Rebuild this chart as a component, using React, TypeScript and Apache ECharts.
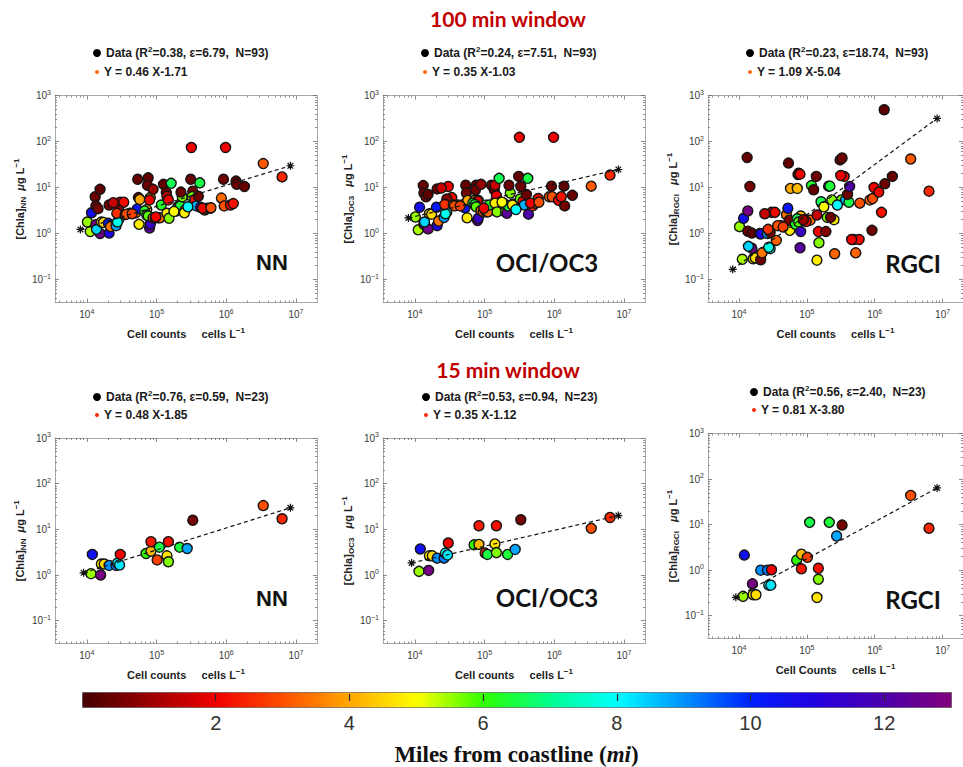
import React, { useEffect, useRef } from 'react';
import * as echarts from 'echarts';

// ---------------- DATA : 100 min window (N = 93) ----------------
const cells100 = [10200, 11200, 11700, 13500, 15500, 13800, 13200, 13500, 14500, 15500, 16200, 17400, 20900, 20400, 20900, 21900, 26300, 28800, 27500, 30200, 33900, 28800, 26900, 35500, 41700, 50100, 52500, 53700, 55000, 56200, 57500, 75900, 74100, 72400, 81300, 79400, 67600, 72400, 75900, 79400, 81300, 89100, 95500, 105000, 112000, 117000, 126000, 138000, 141000, 148000, 141000, 151000, 162000, 191000, 200000, 209000, 219000, 234000, 257000, 251000, 309000, 331000, 324000, 355000, 372000, 417000, 398000, 427000, 490000, 525000, 316000, 977000, 851000, 933000, 1150000, 912000, 1380000, 1410000, 1820000, 589000, 1260000, 3390000, 6310000, 37200, 44700, 97700, 178000, 282000, 224000, 89100, 457000, 603000, 24000];
const miles100 = [5.5, 5.4, 10.6, 12.8, 12.7, 8.4, 0.4, 0.5, 0.6, 0.3, 4.8, 4.6, 0.5, 10.2, 10.8, 3.4, 8.8, 8.0, 7.8, 2.0, 2.1, 0.7, 2.6, 3.2, 3.3, 3.4, 10.3, 0.4, 0.6, 4.8, 4.0, 0.4, 0.5, 4.2, 4.3, 2.0, 6.3, 6.5, 5.8, 12.2, 11.5, 3.3, 3.2, 3.1, 3.3, 6.3, 0.4, 0.5, 1.5, 2.0, 4.8, 5.6, 6.6, 0.7, 5.6, 12.3, 6.4, 5.6, 3.2, 4.8, 0.4, 0.5, 5.7, 2.1, 8.7, 6.5, 0.5, 12.0, 2.6, 3.2, 2.0, 2.0, 3.3, 3.0, 2.0, 0.5, 0.3, 0.5, 0.4, 2.1, 2.2, 3.1, 2.5, 3.0, 2.8, 2.0, 5.0, 8.0, 0.5, 1.0, 2.0, 3.0, 1.5];
const chlNN100 = [1.78, 1.10, 2.82, 1.55, 1.00, 1.23, 6.31, 3.98, 3.47, 9.12, 1.78, 1.74, 4.17, 1.66, 1.02, 1.41, 1.48, 2.04, 1.78, 4.79, 4.79, 3.24, 2.75, 2.57, 2.75, 2.82, 3.39, 15.1, 6.03, 1.58, 5.50, 16.2, 11.2, 3.31, 6.03, 5.37, 3.09, 2.51, 2.40, 1.32, 1.58, 2.19, 2.19, 2.19, 2.19, 4.17, 11.7, 7.76, 6.46, 5.37, 2.75, 2.14, 12.3, 3.09, 3.72, 3.98, 3.98, 6.31, 3.24, 2.82, 15.1, 8.32, 6.31, 5.50, 3.98, 12.6, 6.46, 3.72, 3.24, 3.55, 74.1, 74.1, 5.89, 3.98, 4.17, 15.1, 13.8, 11.7, 10.5, 3.55, 4.47, 33.1, 17.0, 2.63, 2.69, 2.29, 3.02, 3.80, 7.94, 9.12, 3.55, 3.63, 4.68];
const chlOC3100 = [2.29, 1.20, 3.72, 1.58, 1.26, 1.78, 11.0, 7.59, 6.31, 7.08, 2.69, 2.63, 9.33, 3.72, 1.48, 1.86, 2.24, 2.95, 2.69, 10.5, 6.03, 5.62, 4.27, 4.17, 4.17, 4.27, 3.63, 11.2, 7.59, 2.19, 5.25, 11.2, 8.91, 5.25, 5.25, 5.01, 4.57, 4.27, 3.80, 1.91, 2.14, 3.16, 2.95, 2.95, 2.95, 4.17, 11.2, 8.91, 11.2, 6.61, 4.57, 2.95, 15.8, 4.47, 2.95, 2.75, 3.98, 7.59, 4.37, 4.17, 17.4, 10.5, 5.62, 5.01, 4.17, 15.8, 7.08, 2.63, 3.98, 4.57, 123, 123, 6.31, 6.31, 5.25, 10.7, 10.7, 3.98, 6.76, 5.75, 6.31, 10.7, 18.6, 3.98, 3.98, 3.55, 4.79, 3.31, 11.2, 11.7, 4.57, 4.79, 9.77];
const chlRGCI100 = [1.41, 0.275, 2.14, 3.09, 0.479, 0.525, 44.7, 1.12, 10.5, 1.02, 0.282, 0.295, 0.269, 1.00, 0.977, 0.380, 1.00, 0.468, 0.501, 2.88, 2.88, 1.05, 1.23, 0.708, 1.48, 2.57, 3.55, 33.9, 1.95, 1.17, 9.55, 20.4, 19.1, 9.55, 2.40, 19.5, 1.58, 2.09, 1.78, 0.490, 1.10, 1.95, 1.95, 1.95, 1.95, 11.0, 8.91, 17.4, 2.51, 1.10, 0.263, 0.631, 4.90, 1.10, 2.24, 10.7, 10.7, 5.37, 0.363, 2.00, 39.8, 43.7, 5.37, 17.4, 5.37, 4.79, 7.08, 10.5, 0.741, 0.380, 18.2, 10.0, 5.37, 5.75, 7.94, 1.17, 490, 12.0, 17.4, 0.741, 2.88, 41.7, 8.32, 1.48, 1.38, 1.82, 3.80, 4.17, 2.24, 2.00, 0.741, 4.57, 2.69];

// ---------------- DATA : 15 min window (N = 23) ----------------
const cells15 = [12000, 11500, 15800, 16200, 17800, 20900, 26300, 27500, 29500, 30200, 70800, 83200, 83200, 102000, 110000, 141000, 148000, 148000, 214000, 275000, 331000, 3390000, 6310000];
const miles15 = [10.5, 5.5, 12.8, 4.8, 4.6, 9.0, 9.2, 8.0, 8.2, 2.0, 6.0, 4.2, 2.3, 2.8, 6.5, 4.7, 5.6, 2.2, 6.4, 8.8, 0.6, 3.0, 2.5];
const chlNN15 = [2.82, 1.07, 1.00, 1.74, 1.74, 1.62, 1.62, 1.82, 1.66, 2.82, 2.95, 3.31, 5.37, 2.14, 4.07, 2.63, 1.95, 5.37, 4.07, 3.80, 15.8, 33.1, 17.0];
const chlOC315 = [3.72, 1.20, 1.26, 2.63, 2.63, 2.34, 2.34, 3.02, 2.75, 5.01, 4.57, 4.68, 12.0, 3.02, 2.82, 4.79, 3.09, 12.0, 2.82, 3.63, 16.2, 10.5, 18.2];
const chlRGCI15 = [2.14, 0.266, 0.501, 0.288, 0.288, 1.00, 1.00, 0.468, 0.468, 1.02, 1.66, 2.24, 1.07, 1.91, 11.2, 0.251, 0.631, 1.10, 11.2, 5.62, 9.77, 43.7, 8.32];

// ---------------- fits & stats ----------------
const fitSlope100 = [0.46, 0.35, 1.09];
const fitIntercept100 = [-1.71, -1.03, -5.04];
const fitSlope15 = [0.48, 0.35, 0.81];
const fitIntercept15 = [-1.85, -1.12, -3.80];
const fitCells100 = [8100, 8300000];
const fitCells15 = [9000, 8300000];
const r2_100 = ['0.38', '0.24', '0.23'];
const eps100 = ['6.79', '7.51', '18.74'];
const r2_15 = ['0.76', '0.53', '0.56'];
const eps15 = ['0.59', '0.94', '2.40'];
const n100 = 93;
const n15 = 23;

const panelLabels = ['NN', 'OCI/OC3', 'RGCI'];
const ySubscripts = ['NN', 'OC3', 'RGCI'];
const windowTitles = ['100 min window', '15 min window'];
const xMajorTicks = [4, 5, 6, 7];
const yMajorTicks = [-1, 0, 1, 2, 3];
const colorbarTicks = [2, 4, 6, 8, 10, 12];
const milesColors = ['#440000', '#990000', '#f20000', '#ff5000', '#ffa800', '#ffff00', '#30ff00', '#00ff90', '#00ffff', '#0090ff', '#0020ff', '#2400e0', '#4c00aa', '#82007a'];

// ---------------- layout/style ----------------
const X_MIN = Math.log10(3500);
const X_MAX = Math.log10(2e7);
const Y_MIN = -1.5;
const Y_MAX = 3;
const SANS = "'Liberation Sans', Arial, Helvetica, sans-serif";
const BOX = '#a9a9a9';
const TICK = '#6e6e6e';

function logMinor(lo: number, hi: number, from: number, to: number) {
  const out: number[] = [];
  for (let n = from; n <= to; n++) {
    for (let k = 2; k <= 9; k++) {
      const v = n + Math.log10(k);
      if (v > lo + 1e-9 && v < hi - 1e-9) out.push(v);
    }
  }
  return out;
}
const xMinor = logMinor(X_MIN, X_MAX, 3, 7);
const yMinor = logMinor(Y_MIN, Y_MAX, -2, 2);

const grids = [
  { left: 55, top: 95.5, width: 262, height: 207 },
  { left: 383, top: 95.5, width: 262, height: 207 },
  { left: 708, top: 95.5, width: 262, height: 207 },
  { left: 55, top: 438, width: 262, height: 205.5 },
  { left: 383, top: 438, width: 262, height: 205.5 },
  { left: 708, top: 433.5, width: 262, height: 205 },
];
const yNameGaps = [27, 25, 24, 24, 22, 24];
const legendDotX = [97, 425, 750, 97, 426, 754];
const legendDataY = [53, 53, 53, 397, 397, 392];
const legendFitY = [72, 72, 72, 415, 415, 410];
const labelPos = [[272, 262], [547, 262], [913, 263], [272, 598], [547, 597], [913, 599]];

const expFmt = (v: number) => {
  const e = Math.round(v);
  return `{b|10}{s|${e < 0 ? '\u2212' + Math.abs(e) : e}}`;
};
const expRich = {
  b: { fontSize: 10, color: '#3a3a3a', fontFamily: SANS, lineHeight: 14 },
  s: { fontSize: 7, color: '#3a3a3a', fontFamily: SANS, lineHeight: 8, verticalAlign: 'top' },
};

function xAxisDef(g: number, position: string, ticks: number[], len: number, showLine: boolean, withLabel: boolean, name?: string) {
  return {
    type: 'value', gridIndex: g, position, min: X_MIN, max: X_MAX,
    axisLine: { show: showLine, onZero: false, lineStyle: { color: BOX, width: 1 } },
    axisTick: { show: true, inside: true, length: len, customValues: ticks, lineStyle: { color: TICK, width: 0.8 } },
    axisLabel: withLabel ? { show: true, customValues: xMajorTicks, formatter: expFmt, rich: expRich, margin: 5 } : { show: false },
    splitLine: { show: false },
    name: name || '',
    nameLocation: 'middle',
    nameGap: 24,
    nameTextStyle: {
      fontFamily: SANS, fontWeight: 'bold', fontSize: 11, color: '#222', lineHeight: 14,
      rich: { sup: { fontFamily: SANS, fontWeight: 'bold', fontSize: 8, color: '#222', lineHeight: 8, verticalAlign: 'top' } },
    },
  };
}
function yAxisDef(g: number, position: string, ticks: number[], len: number, showLine: boolean, withLabel: boolean, name?: string, gap?: number) {
  return {
    type: 'value', gridIndex: g, position, min: Y_MIN, max: Y_MAX,
    axisLine: { show: showLine, onZero: false, lineStyle: { color: BOX, width: 1 } },
    axisTick: { show: true, inside: true, length: len, customValues: ticks, lineStyle: { color: TICK, width: 0.8 } },
    axisLabel: withLabel ? { show: true, customValues: yMajorTicks, formatter: expFmt, rich: expRich, margin: 4 } : { show: false },
    splitLine: { show: false },
    name: name || '',
    nameLocation: 'middle',
    nameGap: gap || 25,
    nameTextStyle: {
      fontFamily: SANS, fontWeight: 'bold', fontSize: 11, color: '#222', lineHeight: 15,
      rich: {
        sub: { fontFamily: SANS, fontWeight: 'bold', fontSize: 8, color: '#222', lineHeight: 9, verticalAlign: 'bottom' },
        sup: { fontFamily: SANS, fontWeight: 'bold', fontSize: 8, color: '#222', lineHeight: 8, verticalAlign: 'top' },
        mu: { fontFamily: SANS, fontWeight: 'bold', fontStyle: 'italic', fontSize: 11, color: '#222', lineHeight: 15 },
      },
    },
  };
}

function buildOption() {
  const xAxes: any[] = [];
  const yAxes: any[] = [];
  const series: any[] = [];
  const legends: any[] = [];
  const graphics: any[] = [];
  const legendLabels: Record<string, string> = {};
  const scatterIdx: number[] = [];

  const windows = [
    { cells: cells100, miles: miles100, chl: [chlNN100, chlOC3100, chlRGCI100], slope: fitSlope100, icpt: fitIntercept100, fitCells: fitCells100, r2: r2_100, eps: eps100, n: n100, fitColor: '#ff6a1a' },
    { cells: cells15, miles: miles15, chl: [chlNN15, chlOC315, chlRGCI15], slope: fitSlope15, icpt: fitIntercept15, fitCells: fitCells15, r2: r2_15, eps: eps15, n: n15, fitColor: '#ff2a14' },
  ];

  windows.forEach((w, wi) => {
    for (let k = 0; k < 3; k++) {
      const p = wi * 3 + k;
      const xName = (p === 5 ? 'Cell Counts' : 'Cell counts') + '     cells L{sup|\u22121}';
      const sep = k === 0 ? '  ' : '   ';
      const yName = `[Chla]{sub|${ySubscripts[k]}}${sep}{mu|\u03bc}g L{sup|\u22121}`;
      xAxes.push(xAxisDef(p, 'bottom', xMajorTicks, 4, true, true, xName));
      xAxes.push(xAxisDef(p, 'bottom', xMinor, 2, false, false));
      xAxes.push(xAxisDef(p, 'top', xMajorTicks, 4, true, false));
      xAxes.push(xAxisDef(p, 'top', xMinor, 2, false, false));
      yAxes.push(yAxisDef(p, 'left', yMajorTicks, 4, true, true, yName, yNameGaps[p]));
      yAxes.push(yAxisDef(p, 'left', yMinor, 2, false, false));
      yAxes.push(yAxisDef(p, 'right', yMajorTicks, 4, true, false));
      yAxes.push(yAxisDef(p, 'right', yMinor, 2, false, false));

      const dataName = `data-${p}`;
      const fitName = `fit-${p}`;
      legendLabels[dataName] = `Data (R{sup|2}=${w.r2[k]}, \u03b5=${w.eps[k]},  N=${w.n})`;
      const ic = w.icpt[k];
      legendLabels[fitName] = `Y = ${w.slope[k].toFixed(2)} X-${Math.abs(ic).toFixed(2)}`;

      const chl = w.chl[k];
      scatterIdx.push(series.length);
      series.push({
        name: dataName, type: 'scatter', xAxisIndex: p * 4, yAxisIndex: p * 4,
        data: w.cells.map((c, i) => [Math.log10(c), Math.log10(chl[i]), w.miles[i]]),
        symbol: 'circle', symbolSize: 10,
        itemStyle: { borderColor: '#141414', borderWidth: 1.4, opacity: 1 },
        z: 2,
      });
      series.push({
        name: fitName, type: 'line', xAxisIndex: p * 4, yAxisIndex: p * 4,
        data: w.fitCells.map((c) => { const lx = Math.log10(c); return [lx, w.slope[k] * lx + w.icpt[k]]; }),
        symbol: 'path://M5,0L5,10M0,5L10,5M1.5,1.5L8.5,8.5M1.5,8.5L8.5,1.5',
        symbolSize: 8, showSymbol: true,
        lineStyle: { color: '#111', width: 1.2, type: [4, 3] },
        itemStyle: { color: '#111', borderColor: '#111', borderWidth: 1.2 },
        z: 3,
      });

      const textStyle = {
        fontFamily: SANS, fontWeight: 'bold', fontSize: 12, color: '#1a1a1a', lineHeight: 15,
        rich: { sup: { fontFamily: SANS, fontWeight: 'bold', fontSize: 8, color: '#1a1a1a', lineHeight: 8, verticalAlign: 'top' } },
      };
      legends.push({
        show: true, selectedMode: false, orient: 'vertical', padding: 0,
        left: legendDotX[p] - 4, top: legendDataY[p] - 7.5, itemWidth: 8, itemHeight: 8,
        data: [{ name: dataName, icon: 'circle', itemStyle: { color: '#000', borderWidth: 0 } }],
        formatter: (n: string) => legendLabels[n], textStyle,
      });
      legends.push({
        show: true, selectedMode: false, orient: 'vertical', padding: 0,
        left: legendDotX[p] - 2, top: legendFitY[p] - 7.5, itemWidth: 4, itemHeight: 4,
        data: [{ name: fitName, icon: 'circle', itemStyle: { color: w.fitColor, borderWidth: 0 } }],
        formatter: (n: string) => legendLabels[n], textStyle,
      });

      const isNN = k === 0;
      graphics.push({
        type: 'text', x: labelPos[p][0], y: labelPos[p][1], z: 10,
        style: {
          text: panelLabels[k], fill: '#111',
          fontFamily: isNN ? SANS : "Lato, 'Open Sans', sans-serif",
          fontWeight: 'bold', fontSize: isNN ? 22 : 24,
          align: 'center', verticalAlign: 'middle',
        },
      });
    }
  });

  graphics.push({ type: 'text', x: 508, y: 18, style: { text: windowTitles[0], fill: '#c00000', fontFamily: "Lato, 'Open Sans', sans-serif", fontWeight: 'bold', fontSize: 21, align: 'center', verticalAlign: 'middle' } });
  graphics.push({ type: 'text', x: 508, y: 369, style: { text: windowTitles[1], fill: '#c00000', fontFamily: "Lato, 'Open Sans', sans-serif", fontWeight: 'bold', fontSize: 21, align: 'center', verticalAlign: 'middle' } });

  // colour bar axis (grid index 6)
  const cbGrid = { left: 82, top: 692, width: 869, height: 15 };
  xAxes.push({
    type: 'value', gridIndex: 6, min: 0, max: 13, position: 'bottom', z: 10,
    axisLine: { show: false },
    axisTick: { show: true, inside: true, length: 7, customValues: colorbarTicks, lineStyle: { color: '#2a2a2a', width: 1.2 } },
    axisLabel: { show: true, customValues: colorbarTicks, fontFamily: "'Liberation Sans Narrow', 'Liberation Sans', Arial, sans-serif", fontSize: 20, color: '#333', margin: 12 },
    splitLine: { show: false },
    name: 'Miles from coastline ({i|mi})', nameLocation: 'middle', nameGap: 42,
    nameTextStyle: {
      fontFamily: "'Liberation Serif', 'Times New Roman', serif", fontWeight: 'bold', fontSize: 23, color: '#111',
      rich: { i: { fontFamily: "'Liberation Serif', 'Times New Roman', serif", fontWeight: 'bold', fontStyle: 'italic', fontSize: 23, color: '#111' } },
    },
  });
  yAxes.push({ type: 'value', gridIndex: 6, min: 0, max: 1, show: false });

  return {
    animation: false,
    backgroundColor: '#fff',
    grid: [...grids.map((g) => ({ ...g, containLabel: false })), { ...cbGrid, containLabel: false }],
    xAxis: xAxes,
    yAxis: yAxes,
    legend: legends,
    visualMap: {
      type: 'continuous', min: 0, max: 13, dimension: 2, seriesIndex: scatterIdx,
      orient: 'horizontal', left: 82, top: 692, itemWidth: 15, itemHeight: 869,
      calculable: false, hoverLink: false, padding: 0, borderColor: '#555', borderWidth: 1,
      inRange: { color: milesColors },
    },
    graphic: graphics,
    series,
  };
}

export default function App() {
  const ref = useRef<HTMLDivElement>(null);
  useEffect(() => {
    if (!ref.current) return;
    const chart = echarts.init(ref.current, null, { renderer: 'svg' });
    chart.setOption(buildOption() as any);
    return () => chart.dispose();
  }, []);
  return <div ref={ref} style={{ position: 'absolute', left: 0, top: 0, width: 963, height: 767, background: '#fff' }} />;
}
